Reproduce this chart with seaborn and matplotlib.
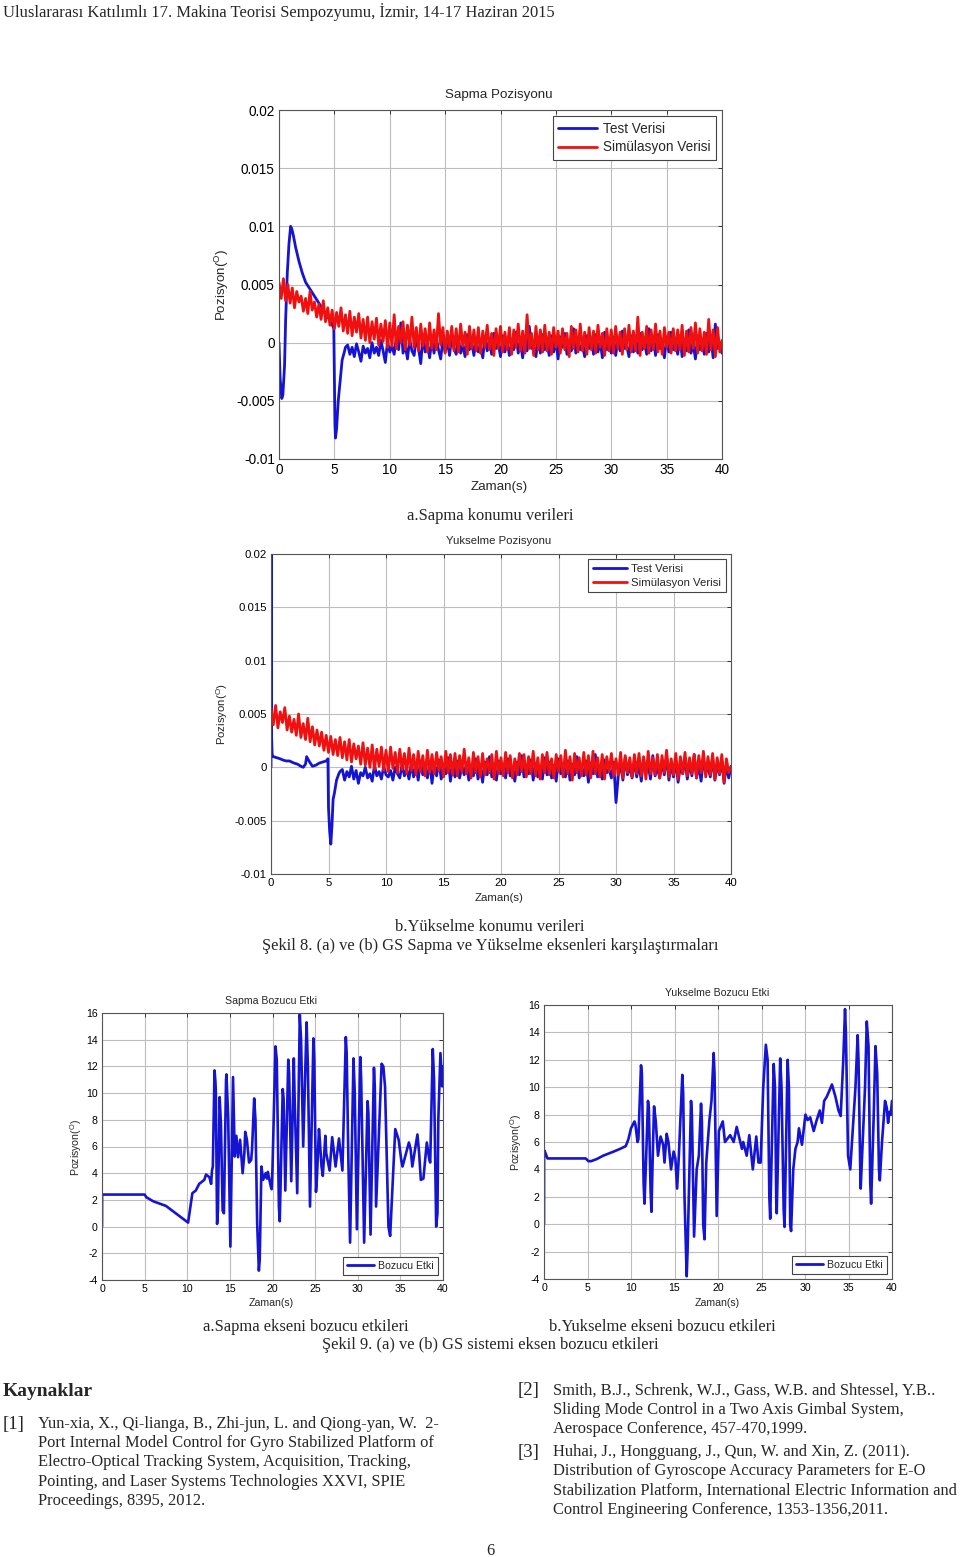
import numpy as np
import matplotlib
matplotlib.use("Agg")
import matplotlib.pyplot as plt
import seaborn as sns

# ---------------- veriler ----------------
# ust grafikler: degerler 1e-4 derece biriminde okunmustur
# Sapma - test verisi (gecis bolgesi, t<6 s)
sapma_test_t0 = [0, 0.1, 0.25, 0.35, 0.5, 0.6, 0.75, 0.9, 1.05, 1.15, 1.3, 1.5, 1.8, 2.1, 2.4,
                 2.8, 3.2, 3.6, 4.0, 4.4, 4.7, 4.95, 5.0, 5.05, 5.1, 5.2, 5.35, 5.5, 5.7, 5.9, 6.0]
sapma_test_v0 = [0, -30, -48, -45, -20, 20, 60, 85, 100, 98, 92, 82, 70, 60, 52,
                 46, 40, 34, 28, 22, 18, 12, -30, -70, -82, -74, -50, -35, -15, -8, -4]
# Sapma - test verisi, 6.2 s .. 40 s, 0.2 s aralik
sapma_test_v1 = [-2, -10, -4, -12, -1, -8, -16, -3, -9, -5,
                 -13, 0, -9, -4, -11, 2, -7, -17, 1, -8,
                 -3, -10, 5, -6, 17, -9, -2, -14, 3, -7,
                 -11, 4, -5, -18, 6, -8, -1, -13, 2, -9,
                 5, -6, -14, 3, -8, 1, -11, 6, -5, -10,
                 4, -9, -2, -12, 7, -6, 0, -11, 3, -8,
                 -4, -13, 5, -7, 2, -10, 8, -5, -1, -12,
                 6, -8, 3, -11, -2, -6, 9, -9, 1, -13,
                 5, -7, 14, -5, -3, -12, 4, -9, 7, -6,
                 -1, -11, 6, -8, 2, -14, 5, -4, 8, -10,
                 0, -7, 12, -9, 3, -6, -2, -12, 6, -5,
                 4, -10, 7, -8, 1, -13, 9, -6, -1, -9,
                 5, -11, 2, -7, 10, -5, -3, -12, 6, -8,
                 3, -9, 8, -6, 0, -10, 12, -7, 4, -11,
                 7, -5, -2, -13, 5, -8, 9, -6, 1, -10,
                 6, -12, 3, -7, 11, -9, -1, -14, 6, -6,
                 2, -10, 8, -8, 4, -13, 16, -5, 0, -9]
# Sapma - simulasyon verisi, 0 .. 40 s, 0.2 s aralik
sapma_sim_v = [52, 38, 55, 36, 50, 34, 47, 30, 44, 35,
               40, 27, 38, 25, 44, 28, 35, 22, 33, 20,
               36, 18, 30, 15, 28, 12, 26, 14, 30, 10,
               24, 8, 27, 6, 22, 9, 25, 4, 20, 2,
               22, 0, 18, 3, 21, -2, 16, 1, 19, -4,
               17, -3, 24, -5, 14, 0, 18, -6, 15, -2,
               22, -4, 13, -7, 16, -3, 12, -8, 17, -5,
               11, -6, 25, -2, 13, -9, 10, -4, 14, -7,
               12, -8, 16, -3, 9, -10, 14, -5, 11, -7,
               13, -9, 10, -4, 15, -6, 8, -11, 12, -5,
               14, -8, 9, -6, 13, -10, 11, -4, 16, -7,
               10, -9, 24, -5, 8, -11, 14, -6, 11, -8,
               15, -7, 9, -10, 13, -4, 10, -9, 12, -6,
               8, -12, 14, -5, 11, -8, 16, -7, 9, -10,
               13, -6, 10, -9, 15, -4, 8, -11, 12, -7,
               11, -9, 14, -5, 9, -10, 12, -6, 15, -8,
               10, -7, 22, -11, 9, -5, 14, -9, 11, -6,
               16, -8, 10, -10, 13, -4, 9, -9, 12, -7,
               11, -6, 15, -11, 10, -8, 13, -5, 17, -9,
               12, -7, 9, -10, 20, -6, 11, -12, 13, -8,
               2]

# Yukselme - test verisi (gecis bolgesi)
yuk_test_t0 = [0, 0.02, 0.05, 0.1, 0.2, 0.5, 0.8, 1.0, 1.3, 1.6, 2.0, 2.3, 2.6, 2.8, 3.0, 3.1,
               3.3, 3.6, 3.9, 4.2, 4.5, 4.8, 4.95, 5.0, 5.1, 5.2, 5.3, 5.4, 5.5, 5.7, 5.9, 6.0]
yuk_test_v0 = [0, 200, 30, 12, 10, 9, 8, 7, 6, 6, 4, 3, 1, 0, 3, 10,
               6, 1, 2, 4, 5, 6, 8, -38, -60, -72, -55, -30, -25, -12, -6, -4]
yuk_test_v1 = [-2, -12, -4, -9, 1, -11, -3, -15, -5, -8,
               0, -10, -6, -13, 2, -8, -4, -11, 1, -7,
               -9, -3, -12, 0, -6, -10, 3, -8, -2, -11,
               4, -9, 1, -12, 6, -7, -1, -10, 5, -15,
               3, -8, 7, -11, 0, -6, 9, -13, 2, -9,
               6, -10, 1, -7, 4, -12, -2, -8, 8, -11,
               2, -14, 5, -7, 10, -9, -1, -12, 6, -6,
               3, -10, 8, -8, 0, -13, 5, -7, 11, -9,
               1, -6, 7, -12, 4, -9, -2, -11, 9, -7,
               5, -10, 2, -13, 8, -6, -1, -9, 6, -12,
               3, -7, 10, -10, 0, -8, 6, -14, 4, -6,
               12, -9, 2, -11, 7, -5, -2, -10, 5, -33,
               -8, 4, -12, 9, -7, 1, -10, 6, -9, 3,
               -13, 8, -6, 2, -11, 11, -8, 0, -10, 5,
               -7, 10, -12, 3, -9, 6, -14, 1, -6, 8,
               -11, 4, -8, 12, -10, 2, -13, 7, -5, 0,
               -9, 9, -12, 3, -7, 6, -15, 2, -10, 1]
yuk_sim_v = [55, 40, 58, 37, 52, 42, 56, 35, 48, 33,
             45, 30, 50, 28, 41, 26, 46, 24, 38, 21,
             35, 20, 33, 16, 30, 14, 29, 12, 26, 11,
             28, 9, 24, 7, 26, 5, 22, 8, 20, 3,
             23, 2, 18, 0, 21, -2, 17, 1, 19, -3,
             16, -4, 19, -1, 14, -5, 17, -2, 13, -6,
             18, -3, 12, -7, 15, -4, 11, -8, 16, -5,
             12, -6, 14, -3, 10, -9, 15, -5, 12, -7,
             13, -8, 11, -4, 17, -6, 9, -10, 14, -5,
             10, -9, 13, -7, 8, -5, 12, -11, 15, -6,
             9, -8, 14, -5, 11, -10, 8, -7, 13, -4,
             12, -9, 10, -6, 15, -8, 9, -11, 12, -5,
             14, -7, 8, -10, 12, -4, 11, -9, 16, -6,
             10, -12, 13, -5, 9, -8, 14, -7, 11, -10,
             15, -6, 9, -9, 12, -11, 10, -4, 13, -8,
             8, -7, 14, -10, 11, -5, 9, -9, 12, -6,
             13, -8, 10, -11, 15, -6, 9, -7, 12, -10,
             11, -5, 16, -9, 8, -7, 13, -11, 10, -6,
             14, -8, 9, -6, 12, -10, 11, -5, 15, -9,
             10, -7, 13, -11, 9, -6, 12, -14, 8, -5,
             0]

# alt grafikler: bozucu etki (tepe / cukur noktalari)
sapma_boz_t = [0, 0.01, 5.0, 5.2, 6.0, 7.5, 10.1, 10.2, 10.4, 10.6, 11.0, 11.4, 12.0, 12.2, 12.6,
               12.8, 12.9, 13.0, 13.2, 13.3, 13.35, 13.4, 13.5, 13.6, 13.8, 13.95, 14.15, 14.3,
               14.55, 14.6, 14.8, 15.06, 15.37, 15.57, 15.76, 15.96, 16.2, 16.5, 16.7, 16.8,
               17.0, 17.25, 17.5, 17.6, 17.85, 18.0, 18.2, 18.4, 18.5, 18.7, 18.9, 19.2, 19.35,
               19.45, 19.8, 19.9, 20.0, 20.35, 20.5, 20.75, 20.85, 21.2, 21.3, 21.5, 21.85,
               21.95, 22.2, 22.5, 22.6, 22.9, 23.2, 23.35, 23.6, 24.0, 24.15, 24.4, 24.8, 24.9,
               25.1, 25.2, 25.45, 25.55, 25.75, 25.9, 26.2, 26.3, 26.7, 27.0, 27.4, 27.8, 28.2,
               28.6, 28.7, 28.9, 29.1, 29.5, 29.65, 29.9, 30.3, 30.4, 30.75, 31.15, 31.25, 31.5,
               31.9, 32.0, 32.15, 32.8, 33.0, 33.2, 33.6, 33.8, 34.4, 34.8, 35.1, 35.25, 36.0,
               36.2, 36.4, 37.0, 37.2, 37.4, 37.7, 38.1, 38.4, 38.5, 38.8, 38.95, 39.2, 39.35,
               39.45, 39.7, 39.9, 40.0]
sapma_boz_v = [0, 2.4, 2.4, 2.2, 1.9, 1.55, 0.3, 0.75, 1.7, 2.5, 2.7, 3.2, 3.5, 3.9, 3.7,
               3.2, 4.2, 4.5, 11.7, 10.9, 10.2, 7.0, 0.2, 1.2, 9.7, 7.7, 1.2, 1.0,
               11.0, 11.4, 8.2, -1.5, 11.2, 5.25, 6.8, 5.2, 6.5, 4.0, 5.5, 7.1,
               6.5, 4.8, 5.0, 5.8, 9.6, 8.0, 0.3, -3.3, -2.5, 4.5, 3.5, 4.0, 3.6,
               4.1, 3.0, 2.8, 4.4, 13.5, 12.5, 1.5, 0.4, 10.3, 9.6, 2.7, 12.5,
               11.5, 3.4, 12.6, 9.5, 2.5, 15.9, 14.0, 6.0, 15.3, 12.0, 1.5, 14.1, 12.5,
               2.6, 3.5, 7.3, 6.5, 4.5, 3.8, 6.8, 5.5, 4.2, 6.7, 4.5, 6.6, 4.2,
               14.2, 13.0, 5.0, -1.2, 12.6, 10.0, -0.2, 12.7, 11.0, -1.2, 9.4, 8.5, -0.6,
               11.9, 10.5, 1.5, 12.2, 12.0, 10.5, 0.0, -0.7, 7.3, 6.5, 5.0, 4.5, 6.3,
               5.8, 4.5, 6.9, 5.5, 3.5, 3.6, 6.3, 5.0, 4.8, 13.3, 11.0, 0.0, 1.0,
               8.0, 13.0, 10.5, 12.0]

yuk_boz_t = [0, 0.01, 0.1, 0.4, 4.8, 5.1, 5.4, 6.05, 6.8, 8.0, 8.75, 9.4, 9.7, 10.0, 10.4,
             10.5, 10.75, 10.85, 11.15, 11.25, 11.45, 11.55, 11.75, 11.95, 12.05, 12.25, 12.35,
             12.5, 12.65, 12.85, 13.1, 13.4, 13.7, 13.85, 14.1, 14.3, 14.6, 14.9, 15.1, 15.3,
             15.5, 15.9, 16.0, 16.15, 16.4, 16.5, 16.9, 17.0, 17.2, 17.25, 17.55, 17.8, 18.05,
             18.15, 18.3, 18.45, 18.65, 19.0, 19.25, 19.5, 19.6, 19.8, 19.85, 20.1, 20.55, 20.8,
             21.4, 21.8, 22.15, 22.45, 22.75, 22.9, 23.3, 23.6, 24.0, 24.4, 24.65, 24.9, 25.2,
             25.5, 25.7, 25.9, 26.0, 26.4, 26.55, 26.7, 26.75, 27.15, 27.3, 27.55, 27.65, 28.0,
             28.15, 28.3, 28.4, 28.65, 28.9, 29.15, 29.3, 29.65, 30.05, 30.3, 30.6, 31.0, 31.3,
             31.7, 31.95, 32.2, 32.5, 33.1, 33.5, 33.85, 34.1, 34.4, 34.6, 34.7, 34.95, 35.2,
             35.8, 36.05, 36.15, 36.35, 36.4, 36.9, 37.1, 37.3, 37.5, 37.6, 37.9, 38.1, 38.3,
             38.5, 38.6, 38.85, 39.2, 39.4, 39.55, 39.7, 39.85, 40.0]
yuk_boz_v = [0, 5.4, 5.3, 4.8, 4.8, 4.6, 4.6, 4.75, 5.0, 5.3, 5.5, 5.7, 6.2, 7.0, 7.5,
             7.3, 6.0, 6.2, 11.6, 11.0, 3.0, 1.5, 5.0, 9.0, 8.5, 2.5, 0.9,
             5.0, 8.6, 7.5, 5.0, 6.4, 5.8, 4.5, 6.6, 6.0, 4.0, 5.3, 4.8, 2.6,
             5.0, 10.9, 9.5, 2.0, -3.8, -2.0, 9.0, 8.0, 0.8, -0.9, 4.0, 5.0, 8.8,
             7.5, 0.0, -1.1, 4.5, 7.5, 9.0, 12.5, 11.0, 2.5, 0.6, 6.8, 7.5, 6.0,
             6.5, 6.0, 7.1, 6.3, 5.5, 6.0, 5.0, 6.5, 4.0, 6.4, 4.5, 4.5, 10.0,
             13.1, 12.0, 2.0, 0.4, 11.7, 10.0, 1.5, 0.8, 12.1, 10.0, 1.0, -0.2, 12.0,
             10.0, 0.0, -0.5, 4.0, 5.5, 6.0, 7.0, 5.8, 8.0, 7.6, 7.8, 6.8, 7.5,
             8.3, 7.4, 9.0, 9.3, 10.2, 9.3, 8.3, 7.9, 12.0, 15.7, 14.0, 5.0, 4.0,
             10.0, 13.8, 12.0, 4.0, 2.6, 10.0, 14.8, 13.0, 3.0, 1.5, 8.0, 13.0, 11.0,
             4.0, 3.2, 6.0, 9.0, 8.5, 7.4, 8.2, 8.0, 9.0]

x_ticks = [0, 5, 10, 15, 20, 25, 30, 35, 40]
poz_ticks = [0.02, 0.015, 0.01, 0.005, 0, -0.005, -0.01]
poz_labels = ["0.02", "0.015", "0.01", "0.005", "0", "-0.005", "-0.01"]
boz_ticks = [16, 14, 12, 10, 8, 6, 4, 2, 0, -2, -4]
boz_labels = ["16", "14", "12", "10", "8", "6", "4", "2", "0", "-2", "-4"]

# ---------------- stil ----------------
sns.set_style("white")
plt.rcParams["font.family"] = ["Liberation Sans", "DejaVu Sans"]
plt.rcParams["axes.unicode_minus"] = False
plt.rcParams["mathtext.default"] = "regular"

BLUE = "#1414d2"
RED = "#f01010"
SERIF = ["Liberation Serif", "DejaVu Serif"]
W, H = 960, 1557

fig = plt.figure(figsize=(9.6, 15.57), dpi=100)


def px(x, y):
    return x / W, 1 - y / H


def make_ax(left, top, right, bottom):
    return fig.add_axes([left / W, 1 - bottom / H, (right - left) / W, (bottom - top) / H])


def style(ax, yticks, ylabels, fs):
    ax.set_xlim(0, 40)
    ax.set_xticks(x_ticks)
    ax.set_xticklabels([str(t) for t in x_ticks])
    ax.set_yticks(yticks)
    ax.set_yticklabels(ylabels)
    ax.set_ylim(min(yticks), max(yticks))
    ax.grid(True, color="#bdbdbd", lw=0.8)
    ax.tick_params(direction="in", top=True, right=True, length=3, width=0.7,
                   labelsize=fs, pad=3, colors="#333333", labelcolor="black")
    for s in ax.spines.values():
        s.set_color("#555555")
        s.set_linewidth(0.8)
    ax.set_xlabel("")
    ax.set_ylabel("")


def legend(ax, loc, fs, hl):
    lg = ax.legend(loc=loc, fontsize=fs, frameon=True, fancybox=False, framealpha=1,
                   edgecolor="#444444", handlelength=hl, handletextpad=0.4,
                   labelspacing=0.35, borderaxespad=0.45, borderpad=0.4)
    lg.get_frame().set_linewidth(0.8)
    for ln in lg.get_lines():
        ln.set_linewidth(2.0)


grid02 = np.round(np.arange(0, 201) * 0.2, 1)
noisy = dict(lw=2.0, estimator=None, sort=False)

# ---- Sekil 8a: Sapma Pozisyonu ----
ax1 = make_ax(279, 110, 722, 459)
t_test = np.concatenate([sapma_test_t0, grid02[31:]])
v_test = np.concatenate([sapma_test_v0, sapma_test_v1]) * 1e-4
sns.lineplot(x=t_test, y=v_test, ax=ax1, color=BLUE, label="Test Verisi", **noisy)
sns.lineplot(x=grid02, y=np.array(sapma_sim_v) * 1e-4, ax=ax1, color=RED,
             label="Simülasyon Verisi", **noisy)
style(ax1, poz_ticks, poz_labels, 9.8)
legend(ax1, "upper right", 9.8, 2.9)
fig.text(*px(499, 95), "Sapma Pozisyonu", fontsize=9.6, ha="center", va="center")
fig.text(*px(499, 487), "Zaman(s)", fontsize=9.6, ha="center", va="center")
fig.text(*px(222, 285), "Pozisyon($^{O}$)", fontsize=9.6, ha="center", va="center", rotation=90)

# ---- Sekil 8b: Yukselme Pozisyonu ----
ax2 = make_ax(271, 554, 731, 874)
t_test = np.concatenate([yuk_test_t0, grid02[31:]])
v_test = np.concatenate([yuk_test_v0, yuk_test_v1]) * 1e-4
sns.lineplot(x=t_test, y=v_test, ax=ax2, color=BLUE, label="Test Verisi", **noisy)
sns.lineplot(x=grid02, y=np.array(yuk_sim_v) * 1e-4, ax=ax2, color=RED,
             label="Simülasyon Verisi", **noisy)
style(ax2, poz_ticks, poz_labels, 8.2)
legend(ax2, "upper right", 8.2, 3.0)
fig.text(*px(499, 541), "Yukselme Pozisyonu", fontsize=8.2, ha="center", va="center")
fig.text(*px(499, 898), "Zaman(s)", fontsize=8.2, ha="center", va="center")
fig.text(*px(222, 714), "Pozisyon($^{O}$)", fontsize=8.2, ha="center", va="center", rotation=90)

# ---- Sekil 9a: Sapma Bozucu Etki ----
ax3 = make_ax(102, 1013, 443, 1280)
sns.lineplot(x=sapma_boz_t, y=sapma_boz_v, ax=ax3, color=BLUE, lw=1.9, estimator=None,
             sort=False, label="Bozucu Etki")
style(ax3, boz_ticks, boz_labels, 7.6)
legend(ax3, "lower right", 7.6, 2.6)
fig.text(*px(271, 1001), "Sapma Bozucu Etki", fontsize=7.6, ha="center", va="center")
fig.text(*px(271, 1303), "Zaman(s)", fontsize=7.6, ha="center", va="center")
fig.text(*px(76, 1147), "Pozisyon($^{O}$)", fontsize=7.6, ha="center", va="center", rotation=90)

# ---- Sekil 9b: Yukselme Bozucu Etki ----
ax4 = make_ax(544, 1005, 892, 1279)
sns.lineplot(x=yuk_boz_t, y=yuk_boz_v, ax=ax4, color=BLUE, lw=1.9, estimator=None,
             sort=False, label="Bozucu Etki")
style(ax4, boz_ticks, boz_labels, 7.6)
legend(ax4, "lower right", 7.6, 2.6)
fig.text(*px(717, 993), "Yukselme Bozucu Etki", fontsize=7.6, ha="center", va="center")
fig.text(*px(717, 1303), "Zaman(s)", fontsize=7.6, ha="center", va="center")
fig.text(*px(516, 1142), "Pozisyon($^{O}$)", fontsize=7.6, ha="center", va="center", rotation=90)

# ---------------- sayfa metinleri ----------------
fs_txt = 11.85
fig.text(*px(3, 12), "Uluslararası Katılımlı 17. Makina Teorisi Sempozyumu, İzmir, 14-17 Haziran 2015",
         family=SERIF, fontsize=11.9, ha="left", va="center")
fig.text(*px(490, 516), "a.Sapma konumu verileri", family=SERIF, fontsize=fs_txt, ha="center", va="center")
fig.text(*px(490, 927), "b.Yükselme konumu verileri", family=SERIF, fontsize=fs_txt, ha="center", va="center")
fig.text(*px(490, 946), "Şekil 8. (a) ve (b) GS Sapma ve Yükselme eksenleri karşılaştırmaları",
         family=SERIF, fontsize=fs_txt, ha="center", va="center")
fig.text(*px(306, 1327), "a.Sapma ekseni bozucu etkileri", family=SERIF, fontsize=fs_txt, ha="center", va="center")
fig.text(*px(662, 1327), "b.Yukselme ekseni bozucu etkileri", family=SERIF, fontsize=fs_txt, ha="center", va="center")
fig.text(*px(490, 1345), "Şekil 9. (a) ve (b) GS sistemi eksen bozucu etkileri",
         family=SERIF, fontsize=fs_txt, ha="center", va="center")

fig.text(*px(3, 1391), "Kaynaklar", family=SERIF, fontsize=14, weight="bold", ha="left", va="center")

ref1 = ["Yun-xia, X., Qi-lianga, B., Zhi-jun, L. and Qiong-yan, W.  2-",
        "Port Internal Model Control for Gyro Stabilized Platform of",
        "Electro-Optical Tracking System, Acquisition, Tracking,",
        "Pointing, and Laser Systems Technologies XXVI, SPIE",
        "Proceedings, 8395, 2012."]
ref2 = ["Smith, B.J., Schrenk, W.J., Gass, W.B. and Shtessel, Y.B..",
        "Sliding Mode Control in a Two Axis Gimbal System,",
        "Aerospace Conference, 457-470,1999."]
ref3 = ["Huhai, J., Hongguang, J., Qun, W. and Xin, Z. (2011).",
        "Distribution of Gyroscope Accuracy Parameters for E-O",
        "Stabilization Platform, International Electric Information and",
        "Control Engineering Conference, 1353-1356,2011."]


def ref_block(tag, lines, x, y0, step=19.2):
    fig.text(*px(x, y0), tag, family=SERIF, fontsize=13.5, ha="left", va="center")
    for i, line in enumerate(lines):
        fig.text(*px(x + 35, y0 + i * step), line, family=SERIF, fontsize=fs_txt,
                 ha="left", va="center")


ref_block("[1]", ref1, 3, 1424)
ref_block("[2]", ref2, 518, 1391)
ref_block("[3]", ref3, 518, 1452)
fig.text(*px(490, 1551), "6", family=SERIF, fontsize=fs_txt, ha="center", va="center")

fig.savefig("out.png", dpi=100)
